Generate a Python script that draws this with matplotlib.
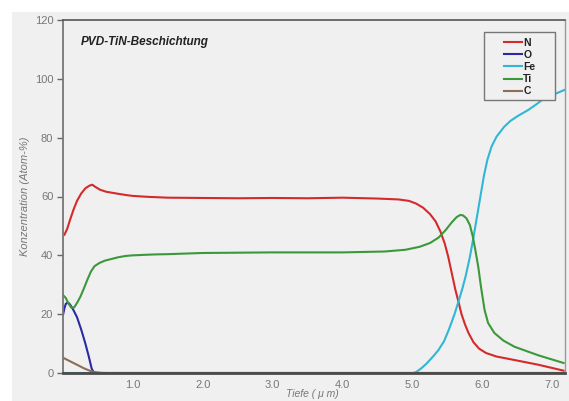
import matplotlib.pyplot as plt
from matplotlib.patches import Rectangle

n_x = [0.02, 0.06, 0.1, 0.15, 0.2, 0.26, 0.32, 0.38, 0.42, 0.46, 0.53, 0.62, 0.77, 0.9,
       1.0, 1.2, 1.5, 2.0, 2.5, 3.0, 3.5, 4.0, 4.5, 4.8, 4.95, 5.05, 5.15, 5.25, 5.33,
       5.4, 5.46, 5.51, 5.56, 5.61, 5.65, 5.7, 5.75, 5.8, 5.87, 5.95, 6.05, 6.2, 6.46,
       6.8, 7.16]
n_y = [47, 49, 52, 55.5, 58.5, 61, 62.8, 63.7, 64, 63.3, 62.3, 61.6, 61, 60.5,
       60.2, 59.9, 59.6, 59.5, 59.4, 59.5, 59.4, 59.6, 59.3, 59.0, 58.5, 57.6, 56.2, 54, 51.5,
       48, 44, 39.5, 34, 28.5, 24.8, 20, 16.5, 13.6, 10.5, 8.3, 6.8, 5.6, 4.4,
       2.8, 0.8]

o_x = [0.0, 0.02, 0.04, 0.07, 0.1, 0.14, 0.2, 0.26, 0.32, 0.37, 0.41, 0.44, 0.48, 7.16]
o_y = [19.7, 22, 23.5, 24, 23.3, 21.8, 19, 14.8, 10, 5.5, 1.5, 0.2, 0, 0]

fe_x = [0.0, 5.0, 5.05, 5.12, 5.2, 5.3, 5.37, 5.45, 5.52, 5.6, 5.65, 5.71, 5.76, 5.82,
        5.87, 5.92, 5.97, 6.02, 6.07, 6.13, 6.2, 6.31, 6.4, 6.5, 6.66, 6.78, 6.89, 7.05, 7.2]
fe_y = [0, 0, 0.3, 1.5, 3.2, 5.8, 7.8, 10.8, 14.8, 20, 23.8, 28.5, 33, 39.5,
        46, 53, 60, 67, 72.5, 77, 80.3, 83.7, 85.7, 87.3, 89.5, 91.5, 93.5, 95, 96.5]

ti_x = [0.0, 0.04, 0.08, 0.12, 0.16, 0.2, 0.25, 0.3, 0.35, 0.4, 0.45, 0.52, 0.6, 0.7,
        0.8, 0.9, 1.0, 1.3, 1.5, 2.0, 3.0, 4.0, 4.6, 4.9, 5.1, 5.25, 5.37, 5.47, 5.56,
        5.63, 5.68, 5.72, 5.77, 5.82, 5.86, 5.9, 5.94, 5.98, 6.03, 6.08, 6.17, 6.3, 6.46,
        6.8, 7.16]
ti_y = [26.5, 25.5, 23.5, 22.2, 22.3, 23.8, 26, 28.8, 31.8, 34.5, 36.3, 37.4, 38.2, 38.8,
        39.4, 39.8, 40, 40.3, 40.4, 40.8, 41, 41, 41.3, 41.9, 42.9, 44.2, 46.0, 48.5, 51.2,
        53, 53.7, 53.6, 52.6, 50.3, 46.5, 41.5, 36, 29, 21.4, 17, 13.6, 11, 8.9,
        6, 3.4]

c_x = [0.0, 0.05, 0.1, 0.15, 0.2, 0.25, 0.29, 0.34, 0.38, 0.45, 0.55, 0.65, 7.16]
c_y = [5.2, 4.6, 4.0, 3.4, 2.8, 2.2, 1.7, 1.2, 0.8, 0.3, 0.05, 0, 0]

x_ticks = [1.0, 2.0, 3.0, 4.0, 5.0, 6.0, 7.0]
y_ticks = [0, 20, 40, 60, 80, 100, 120]

series = [
    ("N", n_x, n_y, "#d42a2a"),
    ("O", o_x, o_y, "#2a2aa8"),
    ("Fe", fe_x, fe_y, "#32b6d6"),
    ("Ti", ti_x, ti_y, "#3b983b"),
    ("C", c_x, c_y, "#8a6e58"),
]

narrow = ["Liberation Sans Narrow", "Liberation Sans", "DejaVu Sans"]
bg = "#f0f0f0"

fig = plt.figure(figsize=(5.69, 4.01), dpi=100, facecolor="white")
fig.patches.append(Rectangle((12 / 569, 0), 1, 1 - 12 / 401, transform=fig.transFigure,
                             facecolor=bg, edgecolor="none", zorder=-5))
ax = fig.add_axes([63 / 569, 1 - 373 / 401, (565 - 63) / 569, (373 - 20) / 401])
ax.set_facecolor(bg)

for name, xs, ys, col in series:
    ax.plot(xs, ys, color=col, lw=1.5, label=name)

ax.set_xlim(0, 7.18)
ax.set_ylim(0, 120)
ax.set_xticks(x_ticks)
ax.set_xticklabels([f"{v:.1f}" for v in x_ticks], family=narrow, fontsize=8, color="#777777")
ax.set_yticks(y_ticks)
ax.set_yticklabels([str(v) for v in y_ticks], family=narrow, fontsize=8, color="#777777")
ax.tick_params(axis="x", length=0, pad=5)
ax.tick_params(axis="y", length=4, width=1, color="#666666", pad=3)

ax.spines["left"].set_color("#777777")
ax.spines["left"].set_linewidth(1.3)
ax.spines["bottom"].set_color("#4a4a4a")
ax.spines["bottom"].set_linewidth(2)
ax.spines["top"].set_color("#555555")
ax.spines["top"].set_linewidth(1.2)
ax.spines["right"].set_color("#999999")
ax.spines["right"].set_linewidth(1)

ax.set_ylabel("Konzentration (Atom-%)", family=narrow, style="italic", fontsize=8,
              color="#777777")
ax.yaxis.set_label_coords(-0.065, 0.5)
ax.set_xlabel("Tiefe ( \u03bc m)", family=narrow, style="italic", fontsize=7.5,
              color="#777777")
ax.xaxis.set_label_coords(0.496, -0.045)

ax.text(0.035, 0.955, "PVD-TiN-Beschichtung", transform=ax.transAxes, ha="left", va="top",
        family=["Liberation Sans", "DejaVu Sans"], style="italic", weight="bold",
        fontsize=8.5, color="#222222")

# legend box is wider than its content in the reference, so draw it separately
ax.add_patch(Rectangle((0.839, 0.774), 0.141, 0.192, transform=ax.transAxes,
                       facecolor=bg, edgecolor="#777777", lw=1, zorder=4))
leg = ax.legend(loc="upper right", bbox_to_anchor=(0.945, 0.955), frameon=False,
                prop={"family": ["Liberation Sans", "DejaVu Sans"], "weight": "bold", "size": 7.5},
                handlelength=1.7, handletextpad=0.1, labelspacing=0.2, borderpad=0.2,
                borderaxespad=0)
leg.set_zorder(5)
for t in leg.get_texts():
    t.set_color("#222222")

fig.savefig("out.png", dpi=100, facecolor="white")
